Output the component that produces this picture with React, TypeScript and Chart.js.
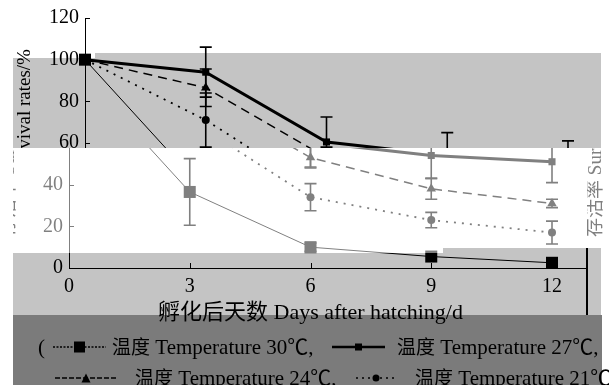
import React, { useEffect, useRef } from "react";
import { Chart, registerables } from "chart.js";

Chart.register(...registerables);

// ---- data ----
const days = [0, 3, 6, 9, 12];
const xTicks = [0, 3, 6, 9, 12];
const yTicks = [0, 20, 40, 60, 80, 100, 120];

const temp30 = [100, 36.5, 10, 5.5, 2.5];
const err30 = [0, 16, 2, 0, 0];
const temp27 = [100, 94, 60.5, 54, 51];
const err27 = [0, 12, 12, 11, 10];
const temp24 = [100, 86.5, 53, 38, 31];
const err24 = [0, 9, 5, 5, 2];
const temp21 = [100, 71, 34, 23, 17];
const err21 = [0, 13, 6.5, 3.7, 5.5];

const seriesCn = "温度";
const seriesEn = [" Temperature 30℃,", " Temperature 27℃,", " Temperature 24℃,", " Temperature 21℃)"];
const xTitle = "孵化后天数 Days after hatching/d";
const yTitle = "存活率 Survival rates/%";

const FONT = "'Liberation Serif', 'Noto Sans CJK SC', serif";

const pts = (vals: number[]) => days.map((d, i) => ({ x: d, y: vals[i] }));

const decorate = {
  id: "decorate",
  afterDatasetsDraw(chart: any) {
    const ctx = chart.ctx;
    const xs = chart.scales.x;
    const ys = chart.scales.y;
    chart.data.datasets.forEach((ds: any) => {
      const errs: number[] = ds.errors || [];
      ds.data.forEach((p: any, i: number) => {
        const e = errs[i];
        if (!e) return;
        const x = xs.getPixelForValue(p.x);
        const y1 = ys.getPixelForValue(p.y + e);
        const y2 = ys.getPixelForValue(p.y - e);
        ctx.save();
        ctx.strokeStyle = "#000";
        ctx.lineWidth = 1.6;
        ctx.setLineDash([]);
        ctx.beginPath();
        ctx.moveTo(x, y1);
        ctx.lineTo(x, y2);
        ctx.moveTo(x - 6, y1);
        ctx.lineTo(x + 6, y1);
        ctx.moveTo(x - 6, y2);
        ctx.lineTo(x + 6, y2);
        ctx.stroke();
        ctx.restore();
      });
    });
  },
  afterDraw(chart: any) {
    const ctx = chart.ctx;
    const xs = chart.scales.x;
    const ys = chart.scales.y;
    const a = chart.chartArea;
    // inner tick marks + axis extension
    ctx.save();
    ctx.strokeStyle = "#000";
    ctx.lineWidth = 1;
    ys.ticks.forEach((t: any) => {
      const y = Math.round(ys.getPixelForValue(t.value)) + 0.5;
      ctx.beginPath();
      ctx.moveTo(a.left, y);
      ctx.lineTo(a.left + 5, y);
      ctx.stroke();
    });
    xs.ticks.forEach((t: any) => {
      const x = Math.round(xs.getPixelForValue(t.value)) + 0.5;
      ctx.beginPath();
      ctx.moveTo(x, a.bottom);
      ctx.lineTo(x, a.bottom - 5);
      ctx.stroke();
    });
    ctx.beginPath();
    ctx.moveTo(a.right, Math.round(a.bottom) + 0.5);
    ctx.lineTo(586, Math.round(a.bottom) + 0.5);
    ctx.stroke();
    ctx.restore();

    const W = chart.width;
    const SHIFT = 16;
    const TOPB = 148;
    // scanned offset of the upper strip
    const img = ctx.getImageData(0, 0, W - SHIFT, TOPB);
    ctx.clearRect(0, 0, W, TOPB);
    ctx.putImageData(img, SHIFT, 0);
    // title fragment displaced to the right edge
    const strip = ctx.getImageData(0, TOPB, 20, 100);
    ctx.putImageData(strip, 587, TOPB);
    ctx.clearRect(0, TOPB, 13, 105);

    ctx.save();
    ctx.globalCompositeOperation = "destination-over";
    ctx.fillStyle = "#c4c4c4";
    ctx.fillRect(13, 58, 82, 90);
    ctx.fillRect(95, 53, 506, 95);
    ctx.fillRect(13, 253, 430, 62);
    ctx.fillRect(443, 248, 158, 67);
    ctx.fillStyle = "#7b7b7b";
    ctx.fillRect(13, 315, 589, 70);
    ctx.globalCompositeOperation = "source-over";
    ctx.fillStyle = "rgba(255,255,255,0.5)";
    ctx.fillRect(0, TOPB, 443, 105);
    ctx.fillRect(443, TOPB, 166, 100);
    ctx.fillStyle = "#000";
    ctx.fillRect(586, 248, 2, 67);
    ctx.restore();
  },
};

function Sample({ w, dash, lw, marker, size }: { w: number; dash?: string; lw: number; marker: string; size: number }) {
  const h = 16;
  const cx = w / 2;
  const cy = h / 2;
  let m: any = null;
  if (marker === "rect") m = <rect x={cx - size / 2} y={cy - size / 2} width={size} height={size} fill="#000" />;
  if (marker === "tri")
    m = <polygon points={`${cx},${cy - size / 2} ${cx - size / 2},${cy + size / 2} ${cx + size / 2},${cy + size / 2}`} fill="#000" />;
  if (marker === "circle") m = <circle cx={cx} cy={cy} r={size / 2} fill="#000" />;
  return (
    <svg width={w} height={h} style={{ display: "block" }}>
      <line x1={0} y1={cy} x2={w} y2={cy} stroke="#000" strokeWidth={lw} strokeDasharray={dash} />
      {m}
    </svg>
  );
}

export default function App() {
  const ref = useRef<HTMLCanvasElement | null>(null);

  useEffect(() => {
    if (!ref.current) return;
    const common = { borderColor: "#000", backgroundColor: "#000", pointBorderColor: "#000", pointBackgroundColor: "#000", clip: false as any, tension: 0 };
    const chart = new Chart(ref.current, {
      type: "line",
      data: {
        datasets: [
          { ...common, label: seriesCn + seriesEn[0], data: pts(temp30), errors: err30, borderWidth: 1, pointStyle: "rect", pointRadius: 8.5, pointBorderWidth: 0 } as any,
          { ...common, label: seriesCn + seriesEn[1], data: pts(temp27), errors: err27, borderWidth: 3, pointStyle: "rect", pointRadius: 5, pointBorderWidth: 0 } as any,
          { ...common, label: seriesCn + seriesEn[2], data: pts(temp24), errors: err24, borderWidth: 1.5, borderDash: [9, 6], pointStyle: "triangle", pointRadius: 5.5, pointBorderWidth: 0 } as any,
          { ...common, label: seriesCn + seriesEn[3], data: pts(temp21), errors: err21, borderWidth: 1.8, borderDash: [2, 6], pointStyle: "circle", pointRadius: 4, pointBorderWidth: 0 } as any,
        ],
      },
      options: {
        responsive: false,
        animation: false,
        events: [],
        layout: { padding: { left: 0, right: 57, top: 18, bottom: 0 } },
        plugins: { legend: { display: false }, tooltip: { enabled: false } },
        scales: {
          x: {
            type: "linear",
            min: 0,
            max: 12,
            grid: { display: false, drawTicks: false },
            border: { display: true, color: "#000", width: 1 },
            afterBuildTicks: (s: any) => {
              s.ticks = xTicks.map((v) => ({ value: v }));
            },
            afterFit: (s: any) => {
              s.height = 117;
            },
            ticks: { autoSkip: false, maxRotation: 0, padding: 7, color: "#000", font: { family: FONT, size: 20 } },
            title: { display: true, text: xTitle, color: "#000", font: { family: FONT, size: 22, lineHeight: 1 }, padding: { top: 0, bottom: 61 } },
          },
          y: {
            min: 0,
            max: 120,
            grid: { display: false, drawTicks: false },
            border: { display: true, color: "#000", width: 1 },
            afterBuildTicks: (s: any) => {
              s.ticks = yTicks.map((v) => ({ value: v }));
            },
            afterFit: (s: any) => {
              s.width = 69;
            },
            ticks: { padding: 6, color: "#000", font: { family: FONT, size: 20 } },
            title: { display: true, text: yTitle, color: "#000", font: { family: FONT, size: 19, lineHeight: 1 }, padding: 0 },
          },
        },
      },
      plugins: [decorate],
    } as any);
    return () => chart.destroy();
  }, []);

  const txt: React.CSSProperties = {
    position: "absolute",
    fontFamily: FONT,
    fontSize: 21,
    lineHeight: "20px",
    whiteSpace: "nowrap",
    color: "#000",
  };
  const cn: React.CSSProperties = { fontSize: 19 };
  const box = (left: number, top: number): React.CSSProperties => ({ position: "absolute", left, top });

  return (
    <div style={{ position: "absolute", left: 0, top: 0, width: 609, height: 385, overflow: "hidden", background: "#fff" }}>
      <canvas ref={ref} width={609} height={385} style={{ display: "block", width: 609, height: 385 }} />
      <span style={{ ...txt, left: 38, top: 337 }}>(</span>
      <div style={box(53, 339)}><Sample w={53} dash="2 1.5" lw={1.5} marker="rect" size={11} /></div>
      <span style={{ ...txt, left: 112, top: 337 }}><span style={cn}>{seriesCn}</span>{seriesEn[0]}</span>
      <div style={box(332, 339)}><Sample w={53} lw={2.5} marker="rect" size={7} /></div>
      <span style={{ ...txt, left: 397, top: 337 }}><span style={cn}>{seriesCn}</span>{seriesEn[1]}</span>
      <div style={box(55, 370)}><Sample w={62} dash="5 2" lw={1.5} marker="tri" size={9} /></div>
      <span style={{ ...txt, left: 135, top: 368 }}><span style={cn}>{seriesCn}</span>{seriesEn[2]}</span>
      <div style={box(356, 370)}><Sample w={40} dash="2 4" lw={1.5} marker="circle" size={7} /></div>
      <span style={{ ...txt, left: 415, top: 368 }}><span style={cn}>{seriesCn}</span>{seriesEn[3]}</span>
    </div>
  );
}
